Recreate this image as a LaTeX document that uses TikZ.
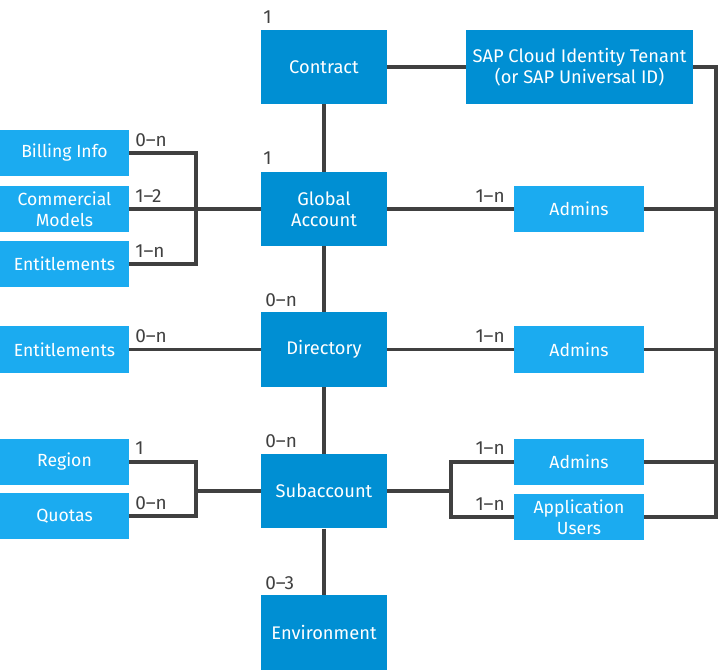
\documentclass[tikz,border=0pt]{standalone}
\usepackage{fontspec}
\setmainfont{Fira Sans}
\usepackage{xcolor}
\usepackage{tikz}

\definecolor{sapdark}{RGB}{0,143,211}
\definecolor{saplight}{RGB}{27,171,240}
\definecolor{linegray}{RGB}{64,64,64}

\begin{document}
\begin{tikzpicture}[x=0.025cm,y=-0.025cm,
	main/.style={fill=sapdark,text=white,minimum width=3.15cm,minimum height=1.86cm,align=center,inner sep=0pt,font=\fontsize{13}{15}\selectfont},
	sub/.style={fill=saplight,text=white,minimum width=3.23cm,minimum height=1.16cm,align=center,inner sep=0pt,font=\fontsize{12.5}{15}\selectfont},
	card/.style={text=linegray,inner sep=0pt,font=\fontsize{13.5}{14}\selectfont},
	link/.style={draw=linegray,line width=2.3pt}]
	\useasboundingbox (0,0) rectangle (720,671);

	% main column
	\node[main] (contract) at (324,67) {Contract};
	\node[main,minimum width=5.68cm] (sap) at (579.5,67) {SAP Cloud Identity Tenant\\(or SAP Universal ID)};
	\node[main] (global) at (324,209) {Global\\Account};
	\node[main] (dir) at (324,349.5) {Directory};
	\node[main] (subacc) at (324,491) {Subaccount};
	\node[main] (env) at (324,632.5) {Environment};

	% left side
	\node[sub] (billing) at (64.5,153) {Billing Info};
	\node[sub] (models) at (64.5,209) {Commercial\\Models};
	\node[sub] (ent) at (64.5,264) {Entitlements};
	\node[sub] (dirent) at (64.5,349.5) {Entitlements};
	\node[sub] (region) at (64.5,462) {Region};
	\node[sub] (quotas) at (64.5,516) {Quotas};

	% right side
	\node[sub] (gadmins) at (579,209) {Admins};
	\node[sub] (dadmins) at (579,349.5) {Admins};
	\node[sub] (sadmins) at (579,462) {Admins};
	\node[sub] (users) at (579,517) {Application\\Users};

	% junctions
	\coordinate (jga) at (196,209);
	\coordinate (jsa) at (196,491);
	\coordinate (jsr) at (451,491);
	\coordinate (bus) at (716,517);

	\draw[link] (contract) -- (sap);
	\draw[link] (contract) -- (global);
	\draw[link] (global) -- (dir);
	\draw[link] (dir) -- (subacc);
	\draw[link] (subacc) -- (env);

	\draw[link] (billing) -| (jga);
	\draw[link] (ent) -| (jga);
	\draw[link] (models) -- (global);
	\draw[link] (dirent) -- (dir);
	\draw[link] (region) -| (jsa);
	\draw[link] (quotas) -| (jsa);
	\draw[link] (jsa) -- (subacc.west);

	\draw[link] (global) -- (gadmins);
	\draw[link] (dir) -- (dadmins);
	\draw[link] (subacc) -- (jsr);
	\draw[link] (sadmins) -| (jsr);
	\draw[link] (users) -| (jsr);

	\draw[link] (sap) -| (bus) -- (users);
	\draw[link] (gadmins) -- (gadmins -| bus);
	\draw[link] (dadmins) -- (dadmins -| bus);
	\draw[link] (sadmins) -- (sadmins -| bus);

	% cardinalities
	\node[card,anchor=south west] (c1) at (263,24) {1};
	\node[card,anchor=south west] (c2) at (263,165) {1};
	\node[card,anchor=south west] (c3) at (265,307) {0--n};
	\node[card,anchor=south west] (c4) at (265,448) {0--n};
	\node[card,anchor=south west] (c5) at (265,590) {0--3};
	\node[card,anchor=south west] (c6) at (135,147) {0--n};
	\node[card,anchor=south west] (c7) at (135,203) {1--2};
	\node[card,anchor=south west] (c8) at (135,258) {1--n};
	\node[card,anchor=south west] (c9) at (135,343) {0--n};
	\node[card,anchor=south west] (c10) at (135,455) {1};
	\node[card,anchor=south west] (c11) at (135,510) {0--n};
	\node[card,anchor=south east] (c12) at (505,203) {1--n};
	\node[card,anchor=south east] (c13) at (505,343) {1--n};
	\node[card,anchor=south east] (c14) at (505,455) {1--n};
	\node[card,anchor=south east] (c15) at (505,511) {1--n};
\end{tikzpicture}
\end{document}
